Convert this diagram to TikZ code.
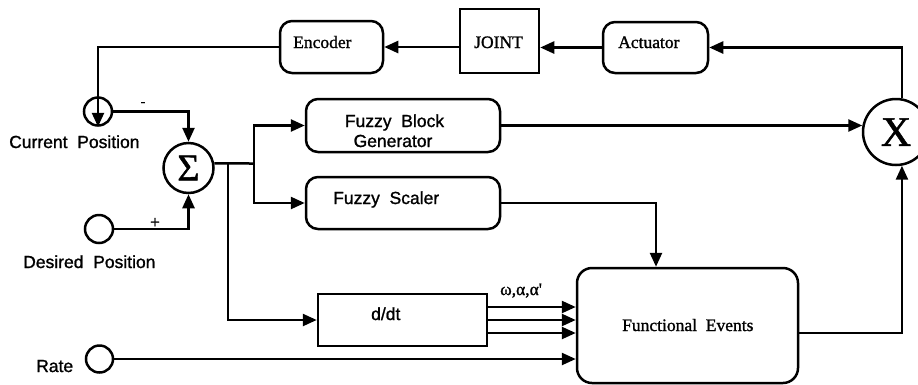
\documentclass[tikz,border=0pt]{standalone}
\usepackage{fontspec}
\usetikzlibrary{arrows.meta}
\newfontfamily\sansf[FakeBold=1.2]{Liberation Sans}
\newfontfamily\seriff[FakeBold=1.2]{Liberation Serif}
\tikzset{
  wire/.style={line width=2.5pt, line join=miter},
  arr/.style={wire, -{Triangle[length=14pt,width=12pt]}},
  blk/.style={draw, line width=2.5pt, inner sep=0pt},
  rblk/.style={blk, rounded corners=12pt},
  port/.style={draw, circle, line width=2.5pt, inner sep=0pt},
  stxt/.style={inner sep=0pt, font=\sansf\fontsize{17.5}{20}\selectfont},
  rtxt/.style={inner sep=0pt, font=\seriff\fontsize{17.5}{20}\selectfont},
}
\begin{document}
\begin{tikzpicture}[x=1pt,y=-1pt]
\useasboundingbox (0,0) rectangle (918,384);

% blocks
\node[rblk, minimum width=103pt, minimum height=52pt] (enc) at (331.5,47) {};
\node[blk,  minimum width=79pt,  minimum height=64pt] (joint) at (499.5,41) {};
\node[rblk, minimum width=105pt, minimum height=51pt] (act) at (655.5,47.5) {};
\node[rblk, minimum width=194pt, minimum height=53pt] (fbg) at (403,125.5) {};
\node[rblk, minimum width=194pt, minimum height=52pt] (fs) at (403,203) {};
\node[blk,  minimum width=169pt, minimum height=52pt] (ddt) at (402.5,320) {};
\node[rblk, rounded corners=15pt, minimum width=221pt, minimum height=115pt] (fe) at (687.5,325.5) {};

% summing and multiplying junctions, signal ports
\node[port, minimum size=50pt, font=\seriff\fontsize{38}{40}\selectfont] (sum) at (188.5,168) {Σ};
\node[port, minimum size=66pt, font=\seriff\fontsize{42}{44}\selectfont] (mult) at (896,132) {X};
\node[port, minimum size=28pt] (cur) at (98,111.5) {};
\node[port, minimum size=28pt] (des) at (99,229) {};
\node[port, minimum size=27pt] (rate) at (99.5,359) {};

% block texts
\node[rtxt, anchor=base west] (tenc) at (293,48) {Encoder};
\node[rtxt, anchor=base west] (tjoint) at (474,48) {JOINT};
\node[rtxt, anchor=base west] (tact) at (618,48) {Actuator};
\node[stxt, anchor=base] (tfbg1) at (394.5,127) {Fuzzy\ \ Block};
\node[stxt, anchor=base] (tfbg2) at (393,147) {Generator};
\node[stxt, anchor=base west] (tfs) at (333,204) {Fuzzy\ \ Scaler};
\node[stxt, anchor=base west] (tddt) at (371,320) {d/dt};
\node[rtxt, anchor=base west] (tfe) at (622,331) {Functional\ \ Events};
\node[rtxt, anchor=base west] (tw) at (500,295) {ω,α,α\textquotesingle};

% port labels and signs
\node[stxt, anchor=base west] (lcur) at (9,148) {Current\ \ Position};
\node[stxt, anchor=base west] (ldes) at (23,268) {Desired\ \ Position};
\node[stxt, anchor=base west] (lrate) at (36,372) {Rate};
\node[rtxt, font=\seriff\fontsize{14}{16}\selectfont] (minus) at (143,104) {-};
\node[rtxt] (plus) at (155,223) {+};

% feedback loop
\coordinate (kx) at (656,0);
\draw[arr] (mult.80) |- (act.east);
\draw[arr] (act.west) -- (act.west -| joint.east);
\draw[arr] (joint.west |- enc.east) -- (enc.east);
\draw[arr] (enc.west) -| (cur.south);
\draw[arr] (cur.east) -| (sum.north);
\draw[arr] (des.east) -| (sum.south);

% error distribution
\coordinate (j1) at (254,163.5);
\coordinate (j2) at (228,163.5);
\draw[wire] (sum.10) -- (j1);
\draw[arr] (j1) |- (fbg.west);
\draw[arr] (j1) |- (fs.west);
\draw[arr] (j2) |- (ddt.west);

% derivative outputs
\coordinate (o1) at ([yshift=13pt]ddt.east);
\coordinate (o2) at (ddt.east);
\coordinate (o3) at ([yshift=-13pt]ddt.east);
\draw[arr] (o1) -- (o1 -| fe.west);
\draw[arr] (o2) -- (o2 -| fe.west);
\draw[arr] (o3) -- (o3 -| fe.west);
\draw[arr] (rate.east) -- (rate.east -| fe.west);

% fuzzy paths to the output
\draw[arr] (fs.east) -| (kx |- fe.north);
\draw[arr] (fbg.east) -- (fbg.east -| mult.170);
\coordinate (feo) at ([yshift=-7.5pt]fe.east);
\draw[arr] (feo) -| (mult.-80);
\end{tikzpicture}
\end{document}
